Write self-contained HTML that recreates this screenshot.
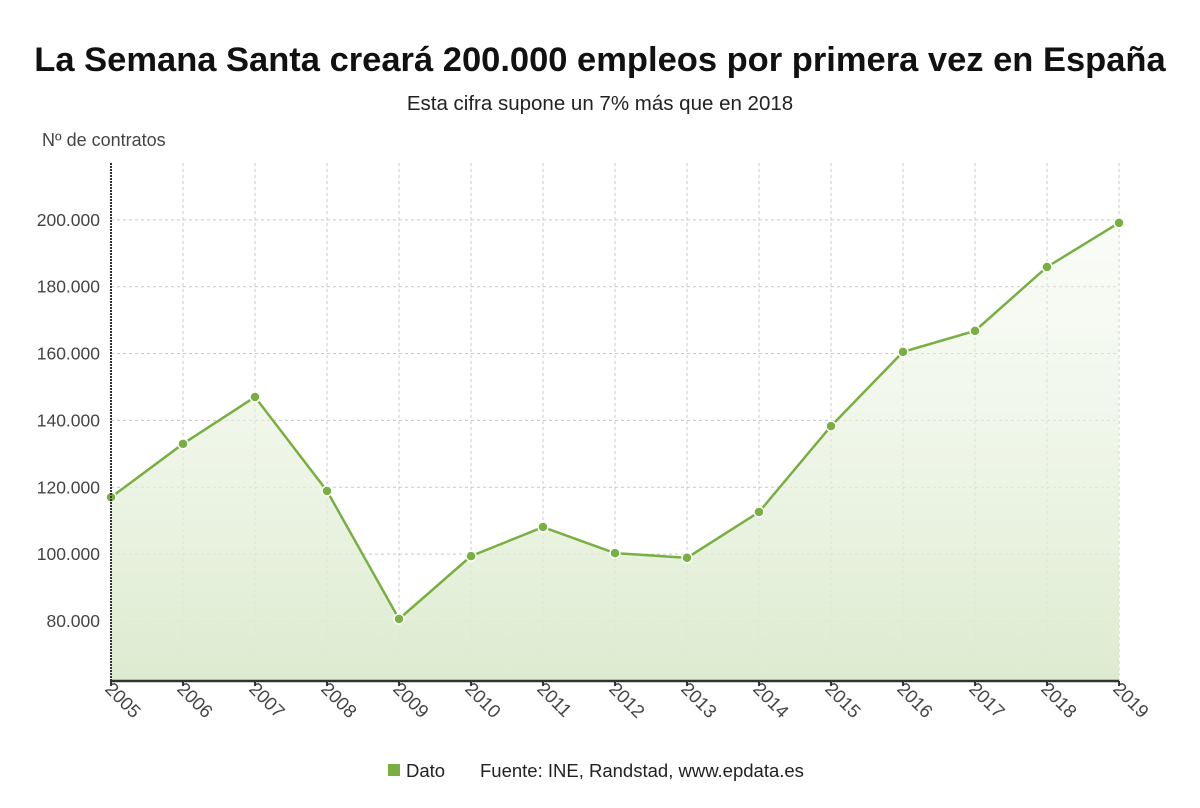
<!DOCTYPE html>
<html><head><meta charset="utf-8"><style>
body{margin:0;background:#fff;font-family:"Liberation Sans",sans-serif;}
#wrap{position:relative;width:1200px;height:808px;overflow:hidden;}
</style></head><body>
<div id="wrap">
<svg id="chart" width="1200" height="808">
<defs>
<linearGradient id="fillg" x1="0" y1="0" x2="0" y2="1">
<stop offset="0" stop-color="#eef5e6" stop-opacity="0.3"/>
<stop offset="1" stop-color="#dcebcf"/>
</linearGradient>
<clipPath id="lblclip"><rect x="0" y="683" width="1200" height="42"/></clipPath>
</defs>
<text x="600" y="71" text-anchor="middle" font-size="34.5" font-weight="bold" fill="#111">La Semana Santa creará 200.000 empleos por primera vez en España</text>
<text x="600" y="110" text-anchor="middle" font-size="20.5" fill="#222">Esta cifra supone un 7% más que en 2018</text>
<text x="42" y="146" font-size="18" fill="#444">Nº de contratos</text>
<g id="grid"></g>
<g id="series"></g>
<g id="axes"></g>
<g>
<rect x="388" y="764" width="12" height="12" fill="#77b041"/>
<text x="406" y="777" font-size="18.5" fill="#222">Dato</text>
<text x="480" y="777" font-size="18.5" fill="#222">Fuente: INE, Randstad, www.epdata.es</text>
</g>
</svg>
</div>
<script>
const years=["2005","2006","2007","2008","2009","2010","2011","2012","2013","2014","2015","2016","2017","2018","2019"];
const values=[117000,133000,147000,118900,80600,99400,108100,100300,98900,112600,138300,160500,166800,185900,199100];
const yTicks=[80000,100000,120000,140000,160000,180000,200000];
const yTickLabels=["80.000","100.000","120.000","140.000","160.000","180.000","200.000"];
const NS="http://www.w3.org/2000/svg";
const L=111,R=1119,T=163,B=681,yMin=62050,yMax=217000;
const x=i=>L+(R-L)*i/(years.length-1);
const y=v=>B-(v-yMin)/(yMax-yMin)*(B-T);
function mk(tag,attrs,parent){const e=document.createElementNS(NS,tag);for(const k in attrs)e.setAttribute(k,attrs[k]);parent.appendChild(e);return e;}
const grid=document.getElementById('grid'),series=document.getElementById('series'),axes=document.getElementById('axes');
yTicks.forEach((t,i)=>{
 const ln=mk('line',{x1:L,x2:R,y1:y(t),y2:y(t),stroke:'#c8c8c8','stroke-dasharray':'3,3'},grid);
 
 
 const tx=mk('text',{x:100,y:y(t)+6,'text-anchor':'end','font-size':'17.5',fill:'#444'},axes);
 tx.textContent=yTickLabels[i];
 
 
});
years.forEach((yr,i)=>{
 if(i>0){const ln=mk('line',{x1:x(i),x2:x(i),y1:T,y2:B,stroke:'#c8c8c8','stroke-dasharray':'3,3'},grid);
 
 }
});
let d='M'+x(0)+','+B;values.forEach((v,i)=>d+=' L'+x(i)+','+y(v));d+=' L'+x(values.length-1)+','+B+' Z';
const area=mk('path',{d:d,fill:'url(#fillg)'},series);


const line=mk('polyline',{points:values.map((v,i)=>x(i)+','+y(v)).join(' '),fill:'none',stroke:'#77b041','stroke-width':'2.5'},series);


values.forEach((v,i)=>{
 const c=mk('circle',{cx:x(i),cy:y(v),r:5,fill:'#77b041',stroke:'#fff','stroke-width':'1.5'},series);
 
 
});
const ya=mk('line',{x1:L,x2:L,y1:T,y2:B,stroke:'#333','stroke-width':'2','stroke-dasharray':'2,1'},axes);


const xa=mk('line',{x1:L-1,x2:R,y1:B,y2:B,stroke:'#333','stroke-width':'2.5'},axes);


const lg=mk('g',{'clip-path':'url(#lblclip)'},axes);
years.forEach((yr,i)=>{
 const tk=mk('line',{x1:x(i),x2:x(i),y1:B,y2:B+5,stroke:'#333','stroke-width':'2'},axes);
 
 
 const t=mk('text',{x:0,y:0,'font-size':'18.5',fill:'#444',transform:'translate('+(x(i)-7)+','+(B+9)+') rotate(45)'},lg);
 t.textContent=yr;
 
 
});
</script>
</body></html>
